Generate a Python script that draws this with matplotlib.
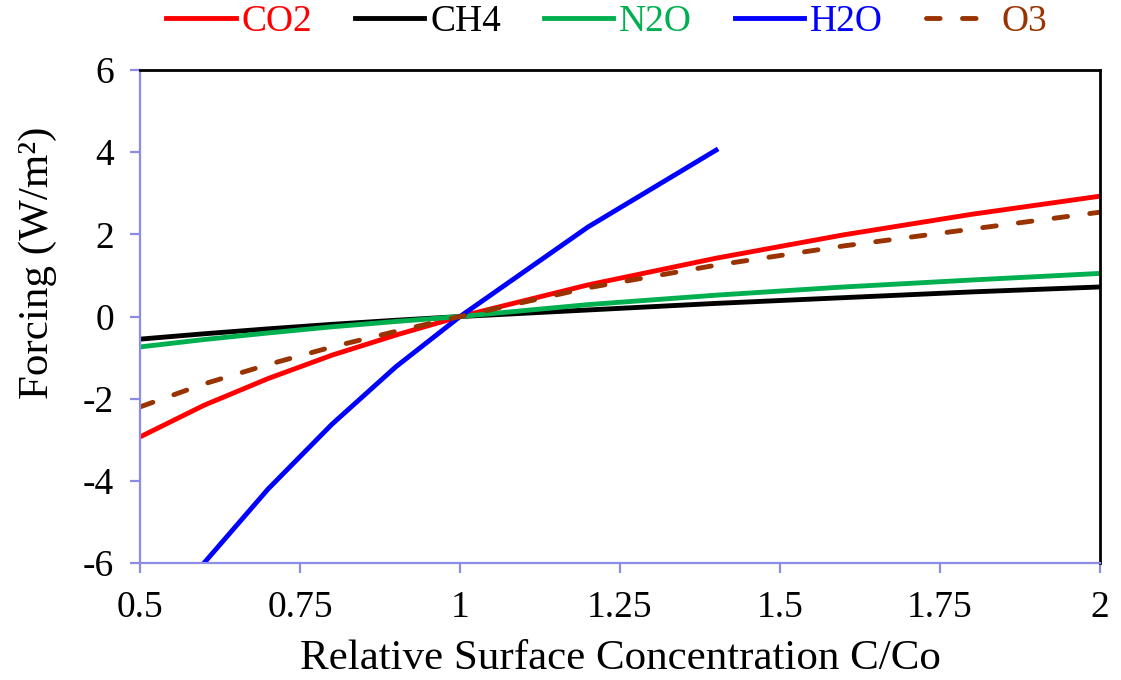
import matplotlib
matplotlib.use("Agg")
import matplotlib.pyplot as plt

plt.rcParams["font.family"] = ["Liberation Serif", "DejaVu Serif"]
plt.rcParams["axes.unicode_minus"] = False

# Relative concentration C/Co
conc = [0.5, 0.6, 0.7, 0.8, 0.9, 1.0, 1.2, 1.4, 1.6, 1.8, 2.0]
co2 = [-2.93, -2.16, -1.51, -0.94, -0.45, 0.0, 0.77, 1.42, 1.99, 2.49, 2.93]
ch4 = [-0.55, -0.42, -0.30, -0.19, -0.09, 0.0, 0.16, 0.32, 0.46, 0.60, 0.72]
n2o = [-0.74, -0.56, -0.40, -0.25, -0.12, 0.0, 0.29, 0.52, 0.72, 0.89, 1.05]
o3 = [-2.20, -1.64, -1.17, -0.74, -0.36, 0.0, 0.70, 1.25, 1.72, 2.13, 2.54]
h2o_conc = [0.6, 0.7, 0.8, 0.9, 1.0, 1.2, 1.4]
h2o = [-6.0, -4.20, -2.62, -1.22, 0.0, 2.18, 4.05]

xticks = [0.5, 0.75, 1.0, 1.25, 1.5, 1.75, 2.0]
xticklabels = ["0.5", "0.75", "1", "1.25", "1.5", "1.75", "2"]
yticks = [-6, -4, -2, 0, 2, 4, 6]

fig = plt.figure(figsize=(11.21, 6.80), dpi=100)
ax = fig.add_axes([0.1249, 0.172, 0.8564, 0.725])

lw = 3.5
ax.plot(conc, co2, color="#FF0000", lw=lw, label="CO2")
ax.plot(conc, ch4, color="#000000", lw=lw, label="CH4")
ax.plot(conc, n2o, color="#00B050", lw=lw, label="N2O")
ax.plot(h2o_conc, h2o, color="#0000FF", lw=lw, label="H2O")
ax.plot(conc, o3, color="#993300", lw=lw, label="O3",
        linestyle=(0, (2.8, 4.6)), dash_capstyle="round")

ax.set_xlim(0.5, 2.0)
ax.set_ylim(-6, 6)
ax.set_xticks(xticks)
ax.set_xticklabels(xticklabels)
ax.set_yticks(yticks)

axis_col = "#8C8CE6"
for side in ("left", "bottom"):
    ax.spines[side].set_color(axis_col)
    ax.spines[side].set_linewidth(1.6)
for side in ("top", "right"):
    ax.spines[side].set_color("black")
    ax.spines[side].set_linewidth(2.0)

ax.tick_params(axis="both", direction="out", length=7.5, width=1.6,
               color=axis_col, labelsize=27)
ax.tick_params(axis="x", pad=12)
ax.tick_params(axis="y", pad=11)

ax.set_xlabel("Relative Surface Concentration C/Co", fontsize=31, labelpad=11)
ax.set_ylabel("Forcing (W/m²)", fontsize=31, labelpad=19, y=0.608)

leg = fig.legend(loc="center", bbox_to_anchor=(0.541, 0.968), ncol=5,
                 frameon=False, fontsize=27, handlelength=1.85,
                 handletextpad=0.15, columnspacing=1.15, borderaxespad=0)
for text, line in zip(leg.get_texts(), leg.get_lines()):
    text.set_color(line.get_color())

fig.savefig("out.png", dpi=100)
